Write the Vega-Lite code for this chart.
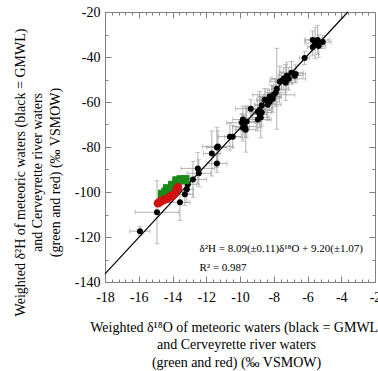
{
  "$schema": "https://vega.github.io/schema/vega-lite/v6.json",
  "width": 270,
  "height": 270,
  "autosize": {"type": "none"},
  "padding": {"left": 105, "top": 12, "right": 3, "bottom": 89},
  "background": "white",
  "config": {
    "view": {"stroke": "#808080", "strokeWidth": 1},
    "font": "Liberation Serif",
    "axis": {
      "labelFont": "Liberation Serif",
      "labelFontSize": 14,
      "labelColor": "black",
      "titleFont": "Liberation Serif",
      "titleFontSize": 14,
      "titleFontWeight": "normal",
      "titleColor": "black",
      "domain": false,
      "grid": false,
      "tickColor": "#808080",
      "tickWidth": 1
    }
  },
  "datasets": {
    "black": [
      {"x": -5.69, "y": -32.4, "xe": 0.5, "ye": 4},
      {"x": -5.40, "y": -32.4, "xe": 0.7, "ye": 6.5},
      {"x": -5.10, "y": -33.3, "xe": 0.5, "ye": 3},
      {"x": -5.34, "y": -35.1, "xe": 0.4, "ye": 5},
      {"x": -5.69, "y": -35.5, "xe": 0.3, "ye": 4},
      {"x": -5.55, "y": -33.8, "xe": 0.6, "ye": 7},
      {"x": -6.17, "y": -40.4, "xe": 0.3, "ye": 3},
      {"x": -6.70, "y": -47.5, "xe": 0.6, "ye": 4},
      {"x": -7.23, "y": -48.3, "xe": 0.5, "ye": 6},
      {"x": -7.41, "y": -49.7, "xe": 0.8, "ye": 5},
      {"x": -7.53, "y": -50.6, "xe": 0.4, "ye": 4},
      {"x": -7.64, "y": -51.0, "xe": 0.6, "ye": 7},
      {"x": -7.11, "y": -49.7, "xe": 1.0, "ye": 5},
      {"x": -6.76, "y": -48.3, "xe": 0.5, "ye": 3},
      {"x": -7.29, "y": -51.4, "xe": 0.4, "ye": 8},
      {"x": -6.95, "y": -47.0, "xe": 0.7, "ye": 5},
      {"x": -7.82, "y": -54.1, "xe": 0.3, "ye": 18},
      {"x": -7.88, "y": -55.9, "xe": 0.6, "ye": 6},
      {"x": -8.00, "y": -56.8, "xe": 1.25, "ye": 4},
      {"x": -8.12, "y": -57.6, "xe": 0.5, "ye": 5},
      {"x": -8.24, "y": -57.6, "xe": 0.7, "ye": 3},
      {"x": -8.06, "y": -58.5, "xe": 0.4, "ye": 6},
      {"x": -8.24, "y": -59.9, "xe": 0.6, "ye": 4},
      {"x": -8.36, "y": -61.2, "xe": 0.8, "ye": 7},
      {"x": -8.53, "y": -59.0, "xe": 0.5, "ye": 5},
      {"x": -8.71, "y": -61.6, "xe": 0.4, "ye": 4},
      {"x": -8.83, "y": -63.4, "xe": 0.7, "ye": 8},
      {"x": -8.95, "y": -64.3, "xe": 0.5, "ye": 5},
      {"x": -8.71, "y": -64.7, "xe": 0.6, "ye": 6},
      {"x": -9.36, "y": -63.0, "xe": 0.9, "ye": 4},
      {"x": -8.83, "y": -65.6, "xe": 0.4, "ye": 3},
      {"x": -8.77, "y": -66.9, "xe": 0.5, "ye": 9},
      {"x": -8.95, "y": -67.8, "xe": 0.8, "ye": 5},
      {"x": -9.83, "y": -67.8, "xe": 0.6, "ye": 6},
      {"x": -9.89, "y": -69.2, "xe": 0.9, "ye": 4},
      {"x": -9.60, "y": -68.7, "xe": 0.5, "ye": 7},
      {"x": -9.72, "y": -70.9, "xe": 0.7, "ye": 5},
      {"x": -9.83, "y": -71.4, "xe": 0.4, "ye": 6},
      {"x": -9.66, "y": -72.3, "xe": 0.6, "ye": 10},
      {"x": -10.60, "y": -75.4, "xe": 0.7, "ye": 6},
      {"x": -10.43, "y": -75.4, "xe": 0.5, "ye": 5},
      {"x": -11.31, "y": -79.8, "xe": 0.9, "ye": 7},
      {"x": -11.37, "y": -80.2, "xe": 0.6, "ye": 9},
      {"x": -11.67, "y": -82.9, "xe": 0.5, "ye": 10},
      {"x": -11.37, "y": -87.3, "xe": 0.6, "ye": 4},
      {"x": -12.50, "y": -89.5, "xe": 1.0, "ye": 7},
      {"x": -12.44, "y": -91.7, "xe": 0.7, "ye": 6},
      {"x": -12.79, "y": -94.4, "xe": 0.8, "ye": 8},
      {"x": -13.09, "y": -96.6, "xe": 0.5, "ye": 4},
      {"x": -13.15, "y": -98.8, "xe": 0.4, "ye": 6},
      {"x": -13.27, "y": -101.0, "xe": 0.5, "ye": 5},
      {"x": -13.56, "y": -104.6, "xe": 0.6, "ye": 8},
      {"x": -14.92, "y": -109.0, "xe": 1.3, "ye": 14},
      {"x": -15.93, "y": -117.4, "xe": 0.6, "ye": 2}
    ],
    "green": [
      {"x": -14.60, "y": -101.0},
      {"x": -14.40, "y": -100.0},
      {"x": -14.30, "y": -98.5},
      {"x": -14.05, "y": -99.0},
      {"x": -14.00, "y": -97.0},
      {"x": -13.75, "y": -96.5},
      {"x": -13.75, "y": -95.0},
      {"x": -13.50, "y": -94.5},
      {"x": -13.25, "y": -94.5}
    ],
    "red": [
      {"x": -14.86, "y": -105.0},
      {"x": -14.75, "y": -104.4},
      {"x": -14.63, "y": -104.0},
      {"x": -14.45, "y": -103.3},
      {"x": -14.30, "y": -103.0},
      {"x": -14.15, "y": -102.0},
      {"x": -14.00, "y": -101.6},
      {"x": -13.86, "y": -100.6},
      {"x": -13.74, "y": -98.8},
      {"x": -13.68, "y": -97.9}
    ],
    "line": [
      {"x": -18, "y": -136.42},
      {"x": -3.61, "y": -20}
    ],
    "ann": [
      {"x": -12.4, "y": -125.4, "t": "δ²H = 8.09(±0.11)δ¹⁸O + 9.20(±1.07)"},
      {"x": -12.4, "y": -133.8, "t": "R² = 0.987"}
    ]
  },
  "layer": [
    {
      "data": {"name": "black"},
      "mark": {"type": "errorbar", "ticks": {"size": 5}, "color": "#9c9c9c", "thickness": 0.8},
      "encoding": {
        "x": {"field": "x", "type": "quantitative", "scale": {"domain": [-18, -2], "nice": false, "zero": false}, "axis": null},
        "xError": {"field": "xe"},
        "y": {"field": "y", "type": "quantitative", "scale": {"domain": [-140, -20], "nice": false, "zero": false}, "axis": null}
      }
    },
    {
      "data": {"name": "black"},
      "mark": {"type": "errorbar", "ticks": {"size": 5}, "color": "#9c9c9c", "thickness": 0.8},
      "encoding": {
        "x": {"field": "x", "type": "quantitative", "scale": {"domain": [-18, -2], "nice": false, "zero": false}, "axis": null},
        "y": {"field": "y", "type": "quantitative", "scale": {"domain": [-140, -20], "nice": false, "zero": false}, "axis": null},
        "yError": {"field": "ye"}
      }
    },
    {
      "data": {"name": "line"},
      "mark": {"type": "line", "color": "black", "strokeWidth": 1.2},
      "encoding": {
        "x": {"field": "x", "type": "quantitative", "scale": {"domain": [-18, -2], "nice": false, "zero": false},
          "axis": {
            "orient": "bottom",
            "values": [-18, -16, -14, -12, -10, -8, -6, -4, -2],
            "labelExpr": "(datum.value < 0 ? '-' : '') + abs(datum.value)",
            "labelFont": "Liberation Serif",
            "labelFontSize": 14,
            "labelOverlap": false,
            "labelBound": false,
            "labelFlush": false,
            "labelPadding": 14,
            "tickSize": -6,
            "title": ["Weighted δ¹⁸O of meteoric waters (black = GMWL)", "and Cerveyrette river waters", "(green and red) (‰ VSMOW)"],
            "titleLineHeight": 17.5,
            "titleAlign": "center",
            "titleBaseline": "top",
            "titleX": 131,
            "titleY": 38
          }
        },
        "y": {"field": "y", "type": "quantitative", "scale": {"domain": [-140, -20], "nice": false, "zero": false},
          "axis": {
            "orient": "left",
            "values": [-140, -120, -100, -80, -60, -40, -20],
            "labelExpr": "(datum.value < 0 ? '-' : '') + abs(datum.value)",
            "labelFont": "Liberation Serif",
            "labelFontSize": 14,
            "labelOverlap": false,
            "labelBound": false,
            "labelFlush": false,
            "labelPadding": 11,
            "tickSize": -6,
            "title": ["Weighted δ²H of meteoric waters (black = GMWL)", "and Cerveyrette river waters", "(green and red) (‰ VSMOW)"],
            "titleLineHeight": 17.5,
            "titleAngle": 270,
            "titleAlign": "center",
            "titleBaseline": "top",
            "titleX": -92,
            "titleY": 160
          }
        }
      }
    },
    {
      "data": {"name": "line"},
      "mark": {"type": "line", "color": "black", "strokeOpacity": 0},
      "encoding": {
        "x": {"field": "x", "type": "quantitative", "scale": {"domain": [-18, -2], "nice": false, "zero": false},
          "axis": {"orient": "top", "values": [-18, -16, -14, -12, -10, -8, -6, -4, -2], "labels": false, "title": null, "tickSize": -6}
        },
        "y": {"field": "y", "type": "quantitative", "scale": {"domain": [-140, -20], "nice": false, "zero": false},
          "axis": {"orient": "right", "values": [-140, -120, -100, -80, -60, -40, -20], "labels": false, "title": null, "tickSize": -6}
        }
      }
    },
    {
      "data": {"name": "line"},
      "mark": {"type": "line", "color": "black", "strokeOpacity": 0},
      "encoding": {
        "x": {"field": "x", "type": "quantitative", "scale": {"domain": [-18, -2], "nice": false, "zero": false},
          "axis": {"orient": "bottom", "values": [-17.6, -17.2, -16.8, -16.4, -15.6, -15.2, -14.8, -14.4, -13.6, -13.2, -12.8, -12.4, -11.6, -11.2, -10.8, -10.4, -9.6, -9.2, -8.8, -8.4, -7.6, -7.2, -6.8, -6.4, -5.6, -5.2, -4.8, -4.4, -3.6, -3.2, -2.8, -2.4], "labels": false, "title": null, "tickSize": -3}
        },
        "y": {"field": "y", "type": "quantitative", "scale": {"domain": [-140, -20], "nice": false, "zero": false},
          "axis": {"orient": "left", "values": [-130, -110, -90, -70, -50, -30], "labels": false, "title": null, "tickSize": -3}
        }
      }
    },
    {
      "data": {"name": "line"},
      "mark": {"type": "line", "color": "black", "strokeOpacity": 0},
      "encoding": {
        "x": {"field": "x", "type": "quantitative", "scale": {"domain": [-18, -2], "nice": false, "zero": false},
          "axis": {"orient": "top", "values": [-17.6, -17.2, -16.8, -16.4, -15.6, -15.2, -14.8, -14.4, -13.6, -13.2, -12.8, -12.4, -11.6, -11.2, -10.8, -10.4, -9.6, -9.2, -8.8, -8.4, -7.6, -7.2, -6.8, -6.4, -5.6, -5.2, -4.8, -4.4, -3.6, -3.2, -2.8, -2.4], "labels": false, "title": null, "tickSize": -3}
        },
        "y": {"field": "y", "type": "quantitative", "scale": {"domain": [-140, -20], "nice": false, "zero": false},
          "axis": {"orient": "right", "values": [-130, -110, -90, -70, -50, -30], "labels": false, "title": null, "tickSize": -3}
        }
      }
    },
    {
      "data": {"name": "black"},
      "mark": {"type": "point", "filled": true, "shape": "circle", "color": "black", "size": 36, "opacity": 1},
      "encoding": {
        "x": {"field": "x", "type": "quantitative", "scale": {"domain": [-18, -2], "nice": false, "zero": false}, "axis": null},
        "y": {"field": "y", "type": "quantitative", "scale": {"domain": [-140, -20], "nice": false, "zero": false}, "axis": null}
      }
    },
    {
      "data": {"name": "green"},
      "mark": {"type": "point", "filled": true, "shape": "square", "color": "#1a8a1a", "size": 80, "opacity": 1},
      "encoding": {
        "x": {"field": "x", "type": "quantitative", "scale": {"domain": [-18, -2], "nice": false, "zero": false}, "axis": null},
        "y": {"field": "y", "type": "quantitative", "scale": {"domain": [-140, -20], "nice": false, "zero": false}, "axis": null}
      }
    },
    {
      "data": {"name": "red"},
      "mark": {"type": "point", "filled": true, "shape": "circle", "color": "#d01212", "size": 75, "opacity": 1},
      "encoding": {
        "x": {"field": "x", "type": "quantitative", "scale": {"domain": [-18, -2], "nice": false, "zero": false}, "axis": null},
        "y": {"field": "y", "type": "quantitative", "scale": {"domain": [-140, -20], "nice": false, "zero": false}, "axis": null}
      }
    },
    {
      "data": {"name": "ann"},
      "mark": {"type": "text", "font": "Liberation Serif", "fontSize": 11, "align": "left", "baseline": "middle", "color": "black"},
      "encoding": {
        "x": {"field": "x", "type": "quantitative", "scale": {"domain": [-18, -2], "nice": false, "zero": false}, "axis": null},
        "y": {"field": "y", "type": "quantitative", "scale": {"domain": [-140, -20], "nice": false, "zero": false}, "axis": null},
        "text": {"field": "t", "type": "nominal"}
      }
    }
  ],
  "resolve": {"axis": {"x": "independent", "y": "independent"}}
}
